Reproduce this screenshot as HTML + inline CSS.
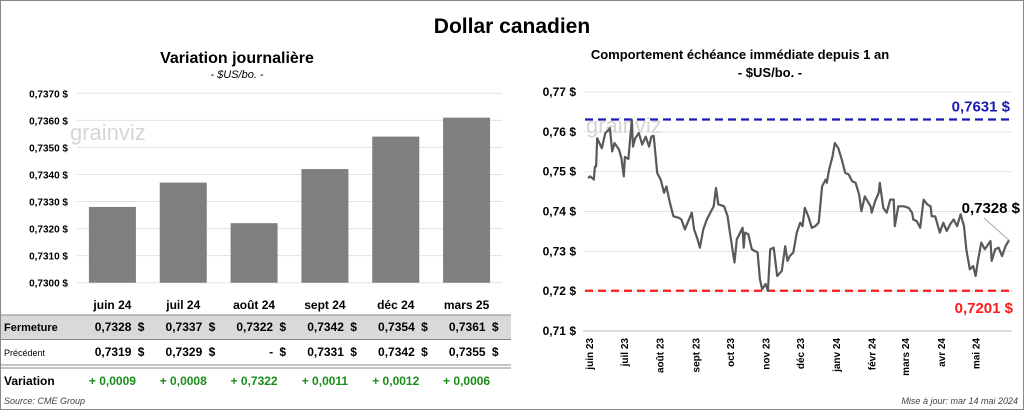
<!DOCTYPE html>
<html><head><meta charset="utf-8"><style>
body{margin:0;width:1024px;height:410px;background:#fff;font-family:"Liberation Sans",Arial,sans-serif;overflow:hidden}
svg{display:block}
</style></head><body>
<svg id="c" width="1024" height="410">
<rect x="0.5" y="0.5" width="1023" height="409" fill="#fff" stroke="#888"/>
<text x="512" y="33" text-anchor="middle" font-size="21" font-weight="bold">Dollar canadien</text>
<text x="237" y="63" text-anchor="middle" font-size="16" font-weight="bold">Variation  journalière</text>
<text x="237" y="78" text-anchor="middle" font-size="11" font-style="italic">- $US/bo. -</text>
<text x="740" y="59" text-anchor="middle" font-size="13" font-weight="bold">Comportement échéance immédiate depuis 1 an</text>
<text x="770" y="77" text-anchor="middle" font-size="13" font-weight="bold">- $US/bo. -</text>
<g id="left"></g>
<g id="table"></g>
<g id="right"></g>
<text x="4" y="404" font-size="9" font-style="italic" fill="#444">Source: CME Group</text>
<text x="1018" y="404" text-anchor="end" font-size="9" font-style="italic" fill="#444">Mise à jour: mar 14 mai 2024</text>
</svg>
<script>
const months=["juin 24","juil 24","août 24","sept 24","déc 24","mars 25"];
const closes=[0.7328,0.7337,0.7322,0.7342,0.7354,0.7361];
const prevs=["0,7319","0,7329","-","0,7331","0,7342","0,7355"];
const variations=["+ 0,0009","+ 0,0008","+ 0,7322","+ 0,0011","+ 0,0012","+ 0,0006"];
const leftTicks=[0.7300,0.7310,0.7320,0.7330,0.7340,0.7350,0.7360,0.7370];

const lineDays=[0,2,5,6,7,8,12,15,18,19,21,23,27,29,31,32,35,38,39,41,44,47,50,53,55,57,60,63,66,68,71,74,79,81,84,87,90,92,95,97,100,103,106,109,111,113,118,121,123,127,129,134,135,136,139,142,147,149,151,154,156,158,161,164,168,171,173,175,178,181,184,186,188,191,194,197,200,203,206,207,209,212,214,217,220,223,226,229,232,235,237,240,245,246,249,252,253,256,259,262,265,266,269,274,278,281,282,285,288,291,294,297,298,301,305,308,311,314,317,320,323,326,328,331,334,336,338,341,344,349,350,353,356,359,362,365];
const lineValues=[0.7484,0.7488,0.7480,0.7512,0.7513,0.7584,0.7559,0.7597,0.7605,0.7609,0.7551,0.7572,0.7555,0.7534,0.7488,0.7537,0.7532,0.7630,0.7563,0.7584,0.7597,0.7568,0.7588,0.7563,0.7588,0.7590,0.7497,0.7480,0.7447,0.7463,0.7422,0.7388,0.7384,0.7380,0.7355,0.7376,0.7397,0.7355,0.7330,0.7309,0.7355,0.7380,0.7397,0.7413,0.7459,0.7418,0.7413,0.7388,0.7347,0.7272,0.7330,0.7359,0.7309,0.7347,0.7343,0.7305,0.7297,0.7230,0.7205,0.7218,0.7201,0.7305,0.7309,0.7238,0.7251,0.7313,0.7276,0.7288,0.7297,0.7347,0.7372,0.7363,0.7409,0.7388,0.7359,0.7363,0.7372,0.7463,0.7480,0.7472,0.7505,0.7538,0.7572,0.7559,0.7530,0.7497,0.7493,0.7476,0.7472,0.7443,0.7401,0.7438,0.7413,0.7397,0.7426,0.7447,0.7472,0.7409,0.7397,0.7430,0.7430,0.7363,0.7413,0.7413,0.7409,0.7397,0.7380,0.7376,0.7359,0.7430,0.7418,0.7413,0.7388,0.7388,0.7347,0.7372,0.7351,0.7368,0.7380,0.7363,0.7393,0.7363,0.7305,0.7255,0.7263,0.7238,0.7276,0.7322,0.7305,0.7326,0.7276,0.7305,0.7309,0.7288,0.7313,0.7328];
const rightTicks=[0.71,0.72,0.73,0.74,0.75,0.76,0.77];
const monthLabels=["juin 23","juil 23","août 23","sept 23","oct 23","nov 23","déc 23","janv 24","févr 24","mars 24","avr 24","mai 24"];
const monthDays=[1,31,62,93,123,154,184,215,246,275,306,336];
const highValue=0.7631, lowValue=0.7201, lastValue=0.7328;

const NS="http://www.w3.org/2000/svg";
function el(p,t,a,txt){const e=document.createElementNS(NS,t);for(const k in a)e.setAttribute(k,a[k]);if(txt!==undefined)e.textContent=txt;p.appendChild(e);return e;}
const fmt4=v=>v.toFixed(4).replace('.',',');
// left
const L=document.getElementById('left');
const lx0=77,lx1=502,ly=v=>282.7-(v-0.7300)/0.0070*189.4;
const band=(lx1-lx0)/months.length;
leftTicks.forEach(t=>{
 const g=el(L,'line',{x1:lx0,x2:lx1,y1:ly(t),y2:ly(t),stroke:'#e2e2e2'});
 
 const tx=el(L,'text',{x:68,y:ly(t)+4,'text-anchor':'end','font-size':10,'font-weight':'bold'},fmt4(t)+' $');
 
});
const wm=el(L,'text',{x:70,y:140,'font-size':22,fill:'#d6d6d6'},'grainviz');

closes.forEach((v,i)=>{
 const cx=lx0+band*(i+0.5),w=47;
 const b=el(L,'rect',{x:cx-w/2,y:ly(v),width:w,height:ly(0.7300)-ly(v),fill:'#7f7f7f'});
 
});
// table
const T=document.getElementById('table');
const bg=el(T,'rect',{x:1,y:315,width:510,height:24,fill:'#d9d9d9'});

[[1,315],[1,339.5],[1,365],[1,368]].forEach(([x,y])=>{const l=el(T,'line',{x1:0,x2:511,y1:y,y2:y,stroke:'#888'});});
const rowLab=[["Fermeture",331,11,'bold'],["Précédent",356,9,'normal'],["Variation",385,12,'bold']];
rowLab.forEach(r=>{const t=el(T,'text',{x:4,y:r[1],'font-size':r[2],'font-weight':r[3]},r[0]);});
months.forEach((m,i)=>{
 const cx=lx0+band*(i+0.5);
 const h=el(T,'text',{x:cx,y:309,'text-anchor':'middle','font-size':12,'font-weight':'bold'},m);
 
 const r=cx+32;
 [[fmt4(closes[i]),331],[prevs[i],356]].forEach(([s,y])=>{
  const a=el(T,'text',{x:r-13,y:y,'text-anchor':'end','font-size':12,'font-weight':'bold'},s);
  
  const d=el(T,'text',{x:r,y:y,'text-anchor':'end','font-size':12,'font-weight':'bold'},'$');
  
 });
 const vv=el(T,'text',{x:cx,y:385,'text-anchor':'middle','font-size':12,'font-weight':'bold',fill:'#1a8c1a'},variations[i]);
 
});
// right
const R=document.getElementById('right');
const rx0=588,rx1=1009,ry=v=>92+(0.77-v)/0.06*239;
const rx=d=>rx0+d/365*(rx1-rx0);
rightTicks.forEach(t=>{
 const g=el(R,'line',{x1:rx0-5,x2:rx1+3,y1:ry(t),y2:ry(t),stroke:'#e2e2e2'});
 
 const tx=el(R,'text',{x:576,y:ry(t)+4,'text-anchor':'end','font-size':12,'font-weight':'bold'},t.toFixed(2).replace('.',',')+' $');
 
});
const wm2=el(R,'text',{x:586,y:133,'font-size':22,fill:'#d6d6d6'},'grainviz');

const ax=el(R,'line',{x1:rx0-5,x2:rx1+3,y1:ry(0.71),y2:ry(0.71),stroke:'#bbb'});

monthLabels.forEach((m,i)=>{
 const x=rx(monthDays[i]);
 const t=el(R,'text',{x:0,y:0,'text-anchor':'end','font-size':10,'font-weight':'bold',transform:`translate(${x+4},338) rotate(-90)`},m);
 
});
const hl=el(R,'line',{x1:rx0-3,x2:rx1+3,y1:ry(highValue),y2:ry(highValue),stroke:'#1a1ab4','stroke-width':2.2,'stroke-dasharray':'8,5'});

const ll=el(R,'line',{x1:rx0-3,x2:rx1+3,y1:ry(lowValue),y2:ry(lowValue),stroke:'#ff1a1a','stroke-width':2.2,'stroke-dasharray':'8,5'});

const ht=el(R,'text',{x:1010,y:ry(highValue)-8,'text-anchor':'end','font-size':15,'font-weight':'bold',fill:'#1a1ab4'},fmt4(highValue)+' $');

const lt=el(R,'text',{x:1013,y:ry(lowValue)+22,'text-anchor':'end','font-size':15,'font-weight':'bold',fill:'#ff1a1a'},fmt4(lowValue)+' $');

const pts=lineDays.map((d,i)=>rx(d).toFixed(1)+','+ry(lineValues[i]).toFixed(1)).join(' ');
const pl=el(R,'polyline',{points:pts,fill:'none',stroke:'#595959','stroke-width':2.2,'stroke-linejoin':'round'});

const lastX=rx(lineDays[lineDays.length-1]),lastY=ry(lastValue);
const lead=el(R,'line',{x1:lastX-25,y1:lastY-22,x2:lastX,y2:lastY,stroke:'#aaa'});

const la=el(R,'text',{x:1020,y:lastY-27,'text-anchor':'end','font-size':15,'font-weight':'bold'},fmt4(lastValue)+' $');

</script>
</body></html>
